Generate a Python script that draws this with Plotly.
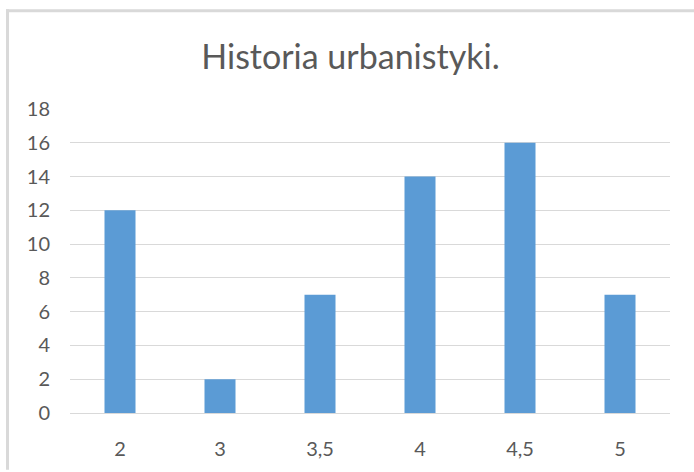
import plotly.graph_objects as go

categories = ["2", "3", "3,5", "4", "4,5", "5"]
values = [12, 2, 7, 14, 16, 7]
y_ticks = [0, 2, 4, 6, 8, 10, 12, 14, 16, 18]
title_text = "Historia urbanistyki."

W, H = 694, 472
L, R, T, B = 70, 24, 109, 57
pw, ph = W - L - R, H - T - B

fig = go.Figure(go.Bar(x=categories, y=values, marker=dict(color="#5B9BD5", line=dict(width=0)), width=0.31))

def px_x(x):
    return (x - L) / pw

def px_y(y):
    return 1 - (y - T) / ph

fig.update_layout(
    width=W, height=H,
    margin=dict(l=L, r=R, t=T, b=B),
    paper_bgcolor="white", plot_bgcolor="white",
    font=dict(family="Lato, Calibri, sans-serif", color="#595959", size=20),
    title=dict(text=title_text, x=0.505, xanchor="center", y=1 - 57 / H, yanchor="middle",
               font=dict(size=34, color="#595959")),
    showlegend=False,
    xaxis=dict(type="category", showgrid=False, showline=False, zeroline=False,
               ticks="", ticklabelstandoff=22, tickfont=dict(size=20, color="#595959")),
    yaxis=dict(range=[0, 18], tickvals=y_ticks, showgrid=True, gridcolor="#D9D9D9", gridwidth=1,
               zeroline=True, zerolinecolor="#D9D9D9", zerolinewidth=1, showline=False,
               ticks="", ticklabelstandoff=19, tickfont=dict(size=20, color="#595959")),
    shapes=[
        dict(type="line", xref="paper", yref="paper", x0=px_x(7.5), x1=px_x(7.5), y0=px_y(8.5), y1=px_y(H),
             line=dict(color="#D9D9D9", width=3)),
        dict(type="line", xref="paper", yref="paper", x0=px_x(6), x1=px_x(W), y0=px_y(10), y1=px_y(10),
             line=dict(color="#D9D9D9", width=3)),
    ],
)

fig.write_html("out.html", config={"displayModeBar": False},
               post_script="document.body.style.margin='0';document.body.style.overflow='hidden';")
